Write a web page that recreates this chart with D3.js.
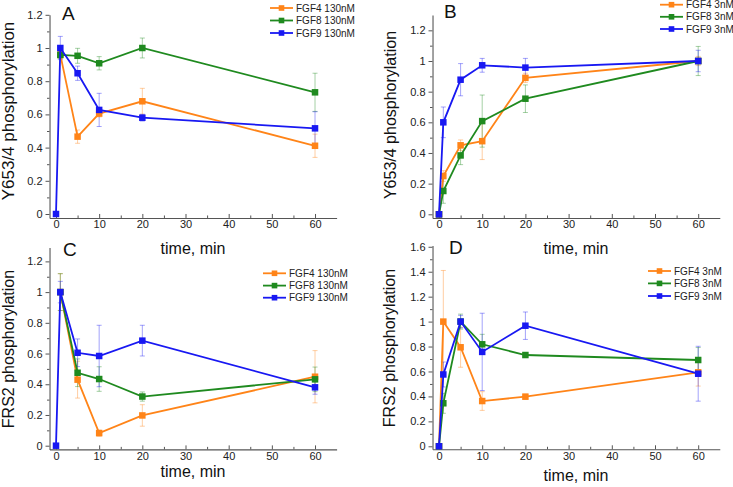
<!DOCTYPE html>
<html>
<head>
<meta charset="utf-8">
<script src="https://cdn.jsdelivr.net/npm/d3@7"></script>
<style>
html, body { margin: 0; padding: 0; background: #fff; }
svg { display: block; font-family: Arial, "Liberation Sans", sans-serif; }
</style>
</head>
<body>
<svg id="chart" width="733" height="487"></svg>
<script>
// ---------- data ----------
const times = [0, 1, 5, 10, 20, 60];
const xTicks = [0, 10, 20, 30, 40, 50, 60];
const yTicksY = [0, 0.2, 0.4, 0.6, 0.8, 1, 1.2];
const yTicksD = [0, 0.2, 0.4, 0.6, 0.8, 1, 1.2, 1.4, 1.6];
const seriesNamesHigh = ["FGF4 130nM", "FGF8 130nM", "FGF9 130nM"];
const seriesNamesLow = ["FGF4 3nM", "FGF8 3nM", "FGF9 3nM"];

// Panel A: Y653/4, 130 nM
const A_FGF4 = [null, 0.96, 0.466, 0.605, 0.679, 0.411];
const A_FGF4_err = [null, 0.02, 0.04, 0.02, 0.078, 0.07];
const A_FGF8 = [null, 0.958, 0.953, 0.908, 1.0, 0.733];
const A_FGF8_err = [null, 0.02, 0.045, 0.04, 0.06, 0.115];
const A_FGF9 = [0, 1.0, 0.848, 0.627, 0.58, 0.516];
const A_FGF9_err = [0, 0.07, 0.043, 0.1, 0.02, 0.1];

// Panel B: Y653/4, 3 nM
const B_FGF4 = [0, 0.25, 0.45, 0.477, 0.89, 1.0];
const B_FGF4_err = [0, 0.035, 0.035, 0.12, 0.03, 0.03];
const B_FGF8 = [0, 0.152, 0.384, 0.608, 0.754, 1.0];
const B_FGF8_err = [0, 0.08, 0.06, 0.17, 0.09, 0.095];
const B_FGF9 = [0, 0.6, 0.878, 0.972, 0.957, 1.0];
const B_FGF9_err = [0, 0.1, 0.105, 0.045, 0.06, 0.07];

// Panel C: FRS2, 130 nM
const C_FGF4 = [null, 1.0, 0.43, 0.082, 0.197, 0.449];
const C_FGF4_err = [null, 0.12, 0.12, 0.02, 0.07, 0.17];
const C_FGF8 = [null, 1.0, 0.475, 0.434, 0.32, 0.432];
const C_FGF8_err = [null, 0.12, 0.09, 0.08, 0.03, 0.08];
const C_FGF9 = [0, 1.0, 0.605, 0.584, 0.684, 0.38];
const C_FGF9_err = [0, 0.07, 0.09, 0.2, 0.1, 0.045];

// Panel D: FRS2, 3 nM
const D_FGF4 = [0, 1.0, 0.794, 0.363, 0.398, 0.593];
const D_FGF4_err = [0, 0.41, 0.16, 0.075, 0.02, 0.11];
const D_FGF8 = [0, 0.345, 1.0, 0.818, 0.732, 0.692];
const D_FGF8_err = [0, 0.08, 0.06, 0.08, 0.02, 0.1];
const D_FGF9 = [0, 0.576, 1.0, 0.757, 0.967, 0.582];
const D_FGF9_err = [0, 0.1, 0.05, 0.31, 0.11, 0.22];

// ---------- styles / layout ----------
const colors = ["#ff8418", "#1f8a1f", "#1818f2"];
const xDomain = [-1.5, 65];

const panels = [
  { label: "A", lx: 62, ly: 20, ytitle: "Y653/4 phosphorylation", ytSize: 17, ytX: 14, ytY: 111,
    xtX: 193, xtY: 254, x0: 56, kx: 4.317, y0: 214, ky: 166, ymax: 1.2, yTicks: yTicksY,
    names: seriesNamesHigh, vals: [A_FGF4, A_FGF8, A_FGF9], errs: [A_FGF4_err, A_FGF8_err, A_FGF9_err],
    legX: 270, legY: [8, 20.5, 33] },
  { label: "B", lx: 444, ly: 18, ytitle: "Y653/4 phosphorylation", ytSize: 16, ytX: 396, ytY: 115,
    xtX: 576, xtY: 254, x0: 439, kx: 4.32, y0: 214.3, ky: 153.3, ymax: 1.3, yTicks: yTicksY,
    names: seriesNamesLow, vals: [B_FGF4, B_FGF8, B_FGF9], errs: [B_FGF4_err, B_FGF8_err, B_FGF9_err],
    legX: 660, legY: [4.7, 16.8, 29] },
  { label: "C", lx: 63, ly: 256, ytitle: "FRS2 phosphorylation", ytSize: 16, ytX: 13.5, ytY: 349,
    xtX: 193, xtY: 476.5, x0: 56, kx: 4.317, y0: 445.7, ky: 153.6, ymax: 1.29, yTicks: yTicksY,
    names: seriesNamesHigh, vals: [C_FGF4, C_FGF8, C_FGF9], errs: [C_FGF4_err, C_FGF8_err, C_FGF9_err],
    legX: 263, legY: [273.3, 285.6, 297.7] },
  { label: "D", lx: 449, ly: 254, ytitle: "FRS2 phosphorylation", ytSize: 16, ytX: 395, ytY: 348,
    xtX: 576, xtY: 481, x0: 439, kx: 4.32, y0: 446.3, ky: 124.7, ymax: 1.61, yTicks: yTicksD,
    names: seriesNamesLow, vals: [D_FGF4, D_FGF8, D_FGF9], errs: [D_FGF4_err, D_FGF8_err, D_FGF9_err],
    legX: 648, legY: [271, 283.4, 296] }
];

const svg = d3.select("#chart");
const fmt = d => String(+(+d).toFixed(1));

panels.forEach(p => {
  const yMin = -0.024;
  const x = d3.scaleLinear().domain(xDomain)
    .range([p.x0 + xDomain[0] * p.kx, p.x0 + xDomain[1] * p.kx]);
  const y = d3.scaleLinear().domain([yMin, p.ymax])
    .range([p.y0 - yMin * p.ky, p.y0 - p.ymax * p.ky]);
  const g = svg.append("g");

  // minor ticks
  const xMinor = d3.range(5, 65, 10);
  const yMinor = d3.range(0.1, p.ymax, 0.2).filter(v => v < p.ymax);
  g.append("g").attr("transform", `translate(0,${y(yMin)})`)
    .call(d3.axisBottom(x).tickValues(xMinor).tickSize(-2.5).tickFormat(""))
    .call(s => s.select(".domain").remove())
    .call(s => s.selectAll("line").attr("stroke", "#555"));
  g.append("g").attr("transform", `translate(${x(xDomain[0])},0)`)
    .call(d3.axisLeft(y).tickValues(yMinor).tickSize(2.5).tickFormat(""))
    .call(s => s.select(".domain").remove())
    .call(s => s.selectAll("line").attr("stroke", "#555"));

  // major axes
  const xa = g.append("g").attr("transform", `translate(0,${y(yMin)})`)
    .call(d3.axisBottom(x).tickValues(xTicks).tickSize(-4).tickSizeOuter(0).tickPadding(2.5).tickFormat(fmt));
  const ya = g.append("g").attr("transform", `translate(${x(xDomain[0])},0)`)
    .call(d3.axisLeft(y).tickValues(p.yTicks).tickSize(4).tickSizeOuter(0).tickPadding(3).tickFormat(fmt));
  [xa, ya].forEach(a => {
    a.select(".domain").attr("stroke", "#555").attr("stroke-width", 1.1);
    a.selectAll(".tick line").attr("stroke", "#555");
    a.selectAll(".tick text").attr("fill", "#222").style("font-size", "11px")
      .style("font-family", "Arial, 'Liberation Sans', sans-serif");
  });

  // error bars
  p.vals.forEach((vals, si) => {
    const errs = p.errs[si];
    const pts = times.map((t, i) => ({ t, v: vals[i], e: errs[i] }))
      .filter(d => d.v !== null && d.e > 0);
    const eg = g.append("g").attr("stroke", colors[si]).attr("stroke-opacity", 0.4).attr("stroke-width", 1);
    eg.selectAll("line.v").data(pts).enter().append("line")
      .attr("x1", d => x(d.t)).attr("x2", d => x(d.t))
      .attr("y1", d => y(d.v - d.e)).attr("y2", d => y(d.v + d.e));
    eg.selectAll("line.top").data(pts).enter().append("line")
      .attr("x1", d => x(d.t) - 2.5).attr("x2", d => x(d.t) + 2.5)
      .attr("y1", d => y(d.v + d.e)).attr("y2", d => y(d.v + d.e));
    eg.selectAll("line.bot").data(pts).enter().append("line")
      .attr("x1", d => x(d.t) - 2.5).attr("x2", d => x(d.t) + 2.5)
      .attr("y1", d => y(d.v - d.e)).attr("y2", d => y(d.v - d.e));
  });

  // lines and markers
  p.vals.forEach((vals, si) => {
    const pts = times.map((t, i) => ({ t, v: vals[i] })).filter(d => d.v !== null);
    const line = d3.line().x(d => x(d.t)).y(d => y(d.v));
    g.append("path").datum(pts).attr("d", line)
      .attr("fill", "none").attr("stroke", colors[si]).attr("stroke-width", 1.8);
    const ms = 6.5;
    g.selectAll(null).data(pts).enter().append("rect")
      .attr("x", d => x(d.t) - ms / 2).attr("y", d => y(d.v) - ms / 2)
      .attr("width", ms).attr("height", ms).attr("fill", colors[si]);
  });

  // legend
  p.names.forEach((name, si) => {
    const ly = p.legY[si];
    g.append("line").attr("x1", p.legX).attr("x2", p.legX + 23)
      .attr("y1", ly).attr("y2", ly).attr("stroke", colors[si]).attr("stroke-width", 1.8);
    g.append("rect").attr("x", p.legX + 11.5 - 2.8).attr("y", ly - 2.8)
      .attr("width", 5.6).attr("height", 5.6).attr("fill", colors[si]);
    g.append("text").attr("x", p.legX + 26).attr("y", ly).attr("dy", "0.35em")
      .attr("fill", "#222").style("font-size", "10px").text(name);
  });

  // panel label
  g.append("text").attr("x", p.lx).attr("y", p.ly).attr("fill", "#111")
    .style("font-size", "19px").text(p.label);

  // axis titles
  g.append("text").attr("x", p.xtX).attr("y", p.xtY).attr("text-anchor", "middle")
    .attr("fill", "#111").style("font-size", "16px").text("time, min");
  g.append("text").attr("transform", `translate(${p.ytX},${p.ytY}) rotate(-90)`)
    .attr("text-anchor", "middle").attr("fill", "#111")
    .style("font-size", p.ytSize + "px").text(p.ytitle);
});
</script>
</body>
</html>
